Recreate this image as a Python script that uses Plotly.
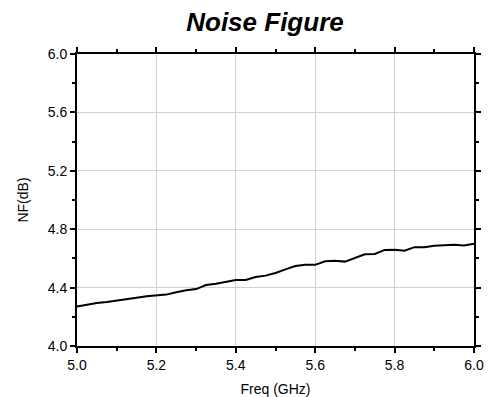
import plotly.graph_objects as go

freq_ghz = [5.000, 5.025, 5.050, 5.075, 5.100, 5.125, 5.150, 5.175, 5.200, 5.225,
            5.250, 5.275, 5.300, 5.325, 5.350, 5.375, 5.400, 5.425, 5.450, 5.475,
            5.500, 5.525, 5.550, 5.575, 5.600, 5.625, 5.650, 5.675, 5.700, 5.725,
            5.750, 5.775, 5.800, 5.825, 5.850, 5.875, 5.900, 5.925, 5.950, 5.975,
            6.000]
nf_db = [4.270, 4.285, 4.295, 4.302, 4.310, 4.322, 4.330, 4.340, 4.348, 4.352,
         4.368, 4.382, 4.390, 4.418, 4.427, 4.442, 4.452, 4.452, 4.472, 4.482,
         4.500, 4.525, 4.548, 4.556, 4.556, 4.580, 4.584, 4.578, 4.603, 4.628,
         4.630, 4.658, 4.660, 4.652, 4.677, 4.677, 4.687, 4.690, 4.693, 4.688,
         4.700]

fig = go.Figure()
fig.add_trace(go.Scatter(x=freq_ghz, y=nf_db, mode="lines",
                         line=dict(color="black", width=2), showlegend=False))

axis_common = dict(
    showline=True, linecolor="black", linewidth=2, mirror="allticks",
    ticks="outside", ticklen=5, tickwidth=2, tickcolor="black",
    showgrid=True, gridcolor="#d0d0d0", gridwidth=1, zeroline=False,
    tickfont=dict(family="Liberation Sans, Arial", size=14, color="black"),
    tickformat=".1f", automargin=False,
)

fig.update_layout(
    width=493, height=397,
    margin=dict(l=77, r=19, t=54, b=51),
    paper_bgcolor="white", plot_bgcolor="white",
    title=dict(text="<b><i>Noise Figure</i></b>", xref="container", x=0.5375,
               xanchor="center", yref="container", y=1 - 22 / 397, yanchor="middle",
               font=dict(family="Liberation Sans, Arial", size=26, color="black")),
    xaxis=dict(range=[5.0, 6.0], dtick=0.2, tick0=5.0,
               minor=dict(dtick=0.1, ticklen=3, tickwidth=2, tickcolor="black",
                          ticks="outside", showgrid=False),
               title=dict(text="Freq (GHz)", standoff=12,
                          font=dict(family="Liberation Sans, Arial", size=14, color="black")),
               **axis_common),
    yaxis=dict(range=[4.0, 6.0], dtick=0.4, tick0=4.0,
               minor=dict(dtick=0.2, ticklen=3, tickwidth=2, tickcolor="black",
                          ticks="outside", showgrid=False),
               title=dict(text="NF(dB)", standoff=16,
                          font=dict(family="Liberation Sans, Arial", size=14, color="black")),
               **axis_common),
)

fig.write_html("out.html", config={"displayModeBar": False},
               post_script="document.body.style.margin='0';document.body.style.padding='0';")
